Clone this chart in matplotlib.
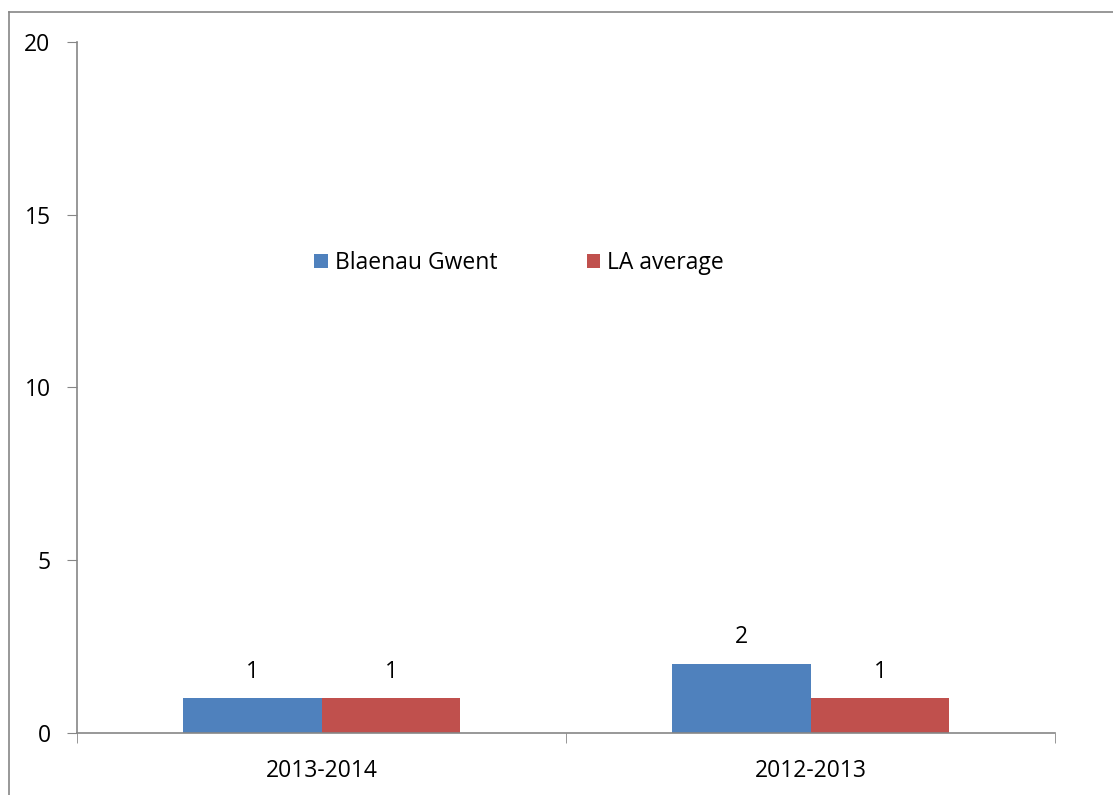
import numpy as np
import matplotlib.pyplot as plt
from matplotlib.lines import Line2D

categories = ["2013-2014", "2012-2013"]
series_names = ["Blaenau Gwent", "LA average"]
blaenau = [1, 2]
la_avg = [1, 1]
colors = ["#4F81BD", "#C0504D"]

plt.rcParams["font.family"] = ["Open Sans", "DejaVu Sans"]
fs = 16.5

fig = plt.figure(figsize=(11.13, 7.95), dpi=100)
ax = fig.add_axes([77 / 1113, 62 / 795, 978 / 1113, 691 / 795])

x = np.arange(len(categories))
w = 0.284
for i, (vals, name) in enumerate(zip([blaenau, la_avg], series_names)):
    pos = x + (i - 0.5) * w
    ax.bar(pos, vals, width=w, color=colors[i], label=name)
    for p, v in zip(pos, vals):
        ax.text(p, v + 0.42, str(v), ha="center", va="bottom", fontsize=fs)

ax.set_xlim(-0.5, len(categories) - 0.5)
ax.set_ylim(0, 20)
ax.set_yticks([0, 5, 10, 15, 20])
ax.set_xticks(x)
ax.set_xticklabels(categories)
ax.set_xticks(np.arange(-0.5, len(categories)), minor=True)
ax.tick_params(axis="x", which="major", length=0, pad=19, labelsize=fs)
ax.tick_params(axis="x", which="minor", length=7, color="#868686", direction="out")
ax.tick_params(axis="y", length=7, color="#868686", direction="out", pad=12, labelsize=fs)
for s in ["top", "right"]:
    ax.spines[s].set_visible(False)
for s in ["left", "bottom"]:
    ax.spines[s].set_color("#868686")
    ax.spines[s].set_linewidth(1.2)

ax.legend(loc="center", bbox_to_anchor=(0.452, 0.68), ncol=2, frameon=False,
          fontsize=fs, handlelength=0.6, handleheight=0.6, handletextpad=0.3,
          columnspacing=3.9)

# outer chart border
fig.add_artist(Line2D([9 / 1113, 9 / 1113], [0, 1 - 12 / 795], transform=fig.transFigure,
                      color="#868686", lw=1.2))
fig.add_artist(Line2D([9 / 1113, 1], [1 - 12 / 795, 1 - 12 / 795], transform=fig.transFigure,
                      color="#868686", lw=1.2))

fig.savefig("out.png", dpi=100)
